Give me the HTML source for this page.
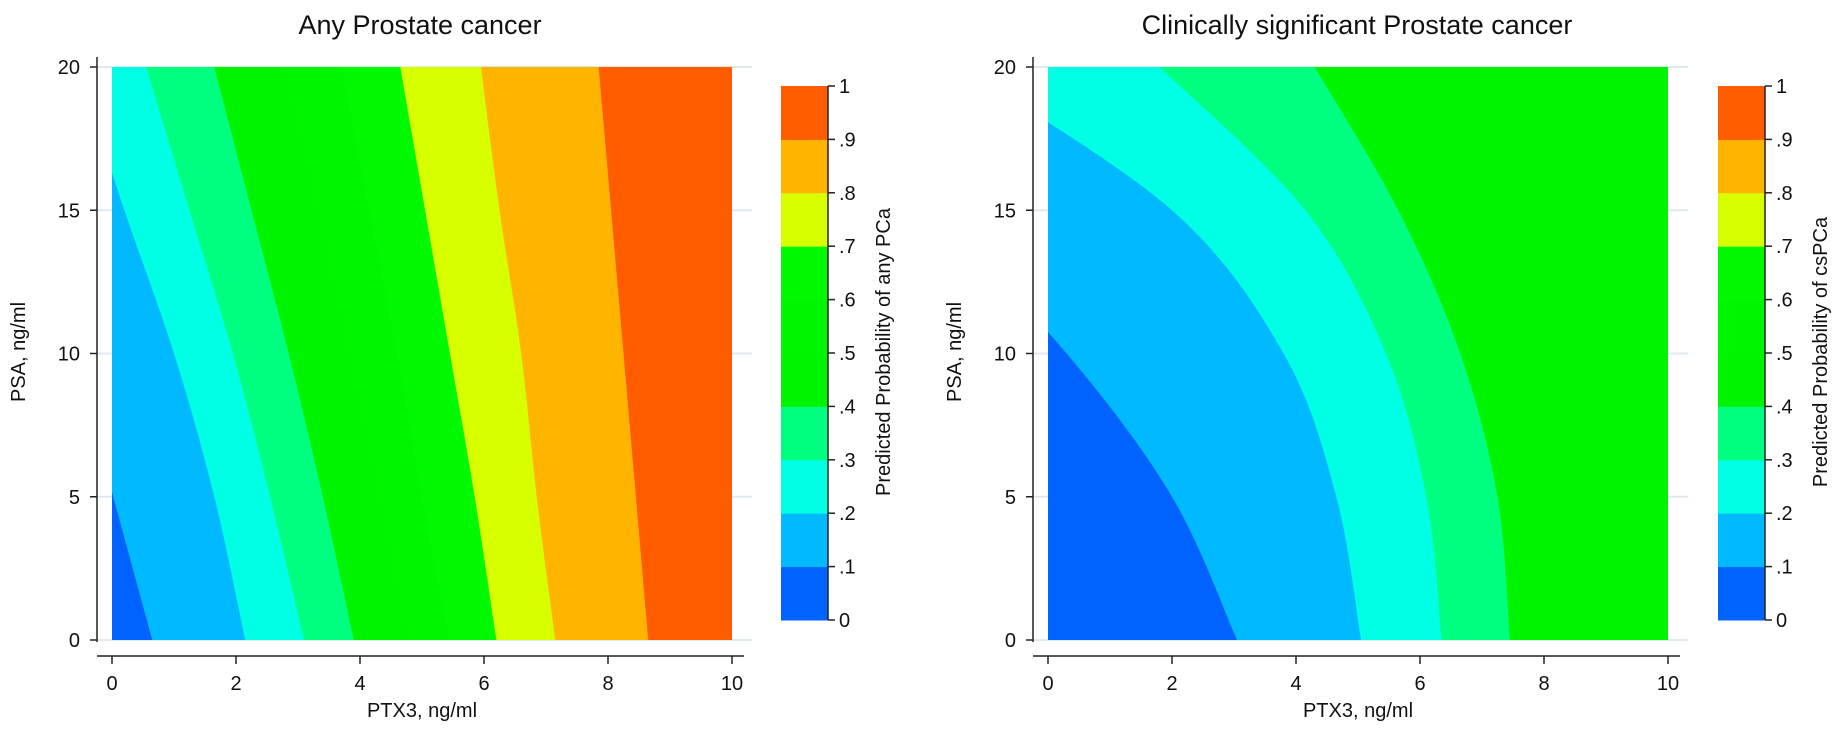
<!DOCTYPE html>
<html><head><meta charset="utf-8">
<style>
html,body{margin:0;padding:0;background:#fff;}
svg{display:block;font-family:"Liberation Sans",Arial,sans-serif;}
</style></head>
<body>
<svg id="fig" width="1841" height="729" viewBox="0 0 1841 729" xmlns="http://www.w3.org/2000/svg"></svg>
<script>
// ---- data ----
const psaGrid = [0, 5, 10, 15, 20];
const levelValues = [0.1, 0.2, 0.3, 0.4, 0.5, 0.6, 0.7, 0.8, 0.9];
const bandColors = ['#0062FF','#00B9FF','#00FFE4','#00FF80','#00F400','#00F600','#00F800','#D8FF00','#FFB400','#FF5C00'];
const colorbarTicks = ['0','.1','.2','.3','.4','.5','.6','.7','.8','.9','1'];
const xTicks = [0, 2, 4, 6, 8, 10];
const yTicks = [0, 5, 10, 15, 20];
// x (PTX3) position of each contour level at each PSA grid value
const anyPcaBoundaries = [
  [0.65, 0.02, -0.6, -1.2, -1.8],
  [2.15, 1.65, 1.0, 0.2, -0.55],
  [3.1, 2.55, 1.95, 1.25, 0.55],
  [3.9, 3.4, 2.85, 2.25, 1.65],
  [4.75, 4.3, 3.8, 3.3, 2.75],
  [5.45, 5.0, 4.6, 4.15, 3.7],
  [6.2, 5.85, 5.45, 5.05, 4.65],
  [7.15, 6.85, 6.6, 6.25, 5.95],
  [8.65, 8.45, 8.25, 8.05, 7.85]
];
const csPcaBoundaries = [
  [3.05, 2.0, 0.3, -1.9, -4.5],
  [5.05, 4.65, 3.8, 2.0, -1.4],
  [6.35, 6.1, 5.45, 4.15, 1.8],
  [7.45, 7.25, 6.65, 5.65, 4.3],
  [20, 20, 20, 20, 20],
  [20, 20, 20, 20, 20],
  [20, 20, 20, 20, 20],
  [20, 20, 20, 20, 20],
  [20, 20, 20, 20, 20]
];

const NS = 'http://www.w3.org/2000/svg';
const svg = document.getElementById('fig');
function mk(tag, attrs, parent, text) {
  const e = document.createElementNS(NS, tag);
  for (const k in attrs) e.setAttribute(k, attrs[k]);
  if (text !== undefined) e.textContent = text;
  (parent || svg).appendChild(e);
  return e;
}
function smoothPath(P) {
  let d = 'M' + P[0][0] + ',' + P[0][1];
  for (let i = 0; i < P.length - 1; i++) {
    const p0 = P[Math.max(0, i - 1)], p1 = P[i], p2 = P[i + 1], p3 = P[Math.min(P.length - 1, i + 2)];
    const c1x = p1[0] + (p2[0] - p0[0]) / 6, c1y = p1[1] + (p2[1] - p0[1]) / 6;
    const c2x = p2[0] - (p3[0] - p1[0]) / 6, c2y = p2[1] - (p3[1] - p1[1]) / 6;
    d += ' C' + c1x + ',' + c1y + ' ' + c2x + ',' + c2y + ' ' + p2[0] + ',' + p2[1];
  }
  return d;
}

function drawPanel(cfg) {
  const g = mk('g', {});
  
  
  const X0 = cfg.x0, X1 = cfg.x0 + 620, Y0 = 67, Y1 = 640;
  const sx = v => X0 + (v / 10) * (X1 - X0);
  const sy = v => Y1 - (v / 20) * (Y1 - Y0);
  yTicks.forEach(t => {
    const l = mk('line', {x1: cfg.x0 - 15, x2: X1 + 20, y1: sy(t), y2: sy(t), stroke: '#dfeaf0', 'stroke-width': 2}, g);
    
    
  });
  const clipId = 'clip-' + cfg.name;
  const defs = mk('defs', {}, g);
  const cp = mk('clipPath', {id: clipId}, defs);
  mk('rect', {x: X0, y: Y0, width: X1 - X0, height: Y1 - Y0}, cp);
  const plot = mk('g', {'clip-path': 'url(#' + clipId + ')'}, g);
  
  
  const bg = mk('rect', {x: X0, y: Y0, width: X1 - X0, height: Y1 - Y0, fill: bandColors[0]}, plot);
  
  
  cfg.bounds.forEach((b, i) => {
    const P = psaGrid.map((p, j) => [sx(b[j]), sy(p)]);
    let d = smoothPath(P);
    d += ' L' + P[P.length - 1][0] + ',' + (Y0 - 30) + ' L' + (X1 + 50) + ',' + (Y0 - 30) + ' L' + (X1 + 50) + ',' + (Y1 + 30) + ' L' + P[0][0] + ',' + (Y1 + 30) + ' Z';
    const poly = mk('path', {d: d, fill: bandColors[i + 1]}, plot);
    
    
  });
  const ax = cfg.x0 - 15;
  const ya = mk('line', {x1: ax, x2: ax, y1: Y0 - 10, y2: Y1 + 2, stroke: '#222', 'stroke-width': 1.5}, g);
  
  
  const xa = mk('line', {x1: ax, x2: X1 + 12, y1: 656, y2: 656, stroke: '#222', 'stroke-width': 1.5}, g);
  
  
  yTicks.forEach(t => {
    mk('line', {x1: ax - 7, x2: ax, y1: sy(t), y2: sy(t), stroke: '#222', 'stroke-width': 1.5}, g);
    const tl = mk('text', {x: ax - 17, y: sy(t) + 7, 'text-anchor': 'end', 'font-size': 20, fill: '#111'}, g, String(t));
    
    
  });
  xTicks.forEach(t => {
    mk('line', {x1: sx(t), x2: sx(t), y1: 656, y2: 664, stroke: '#222', 'stroke-width': 1.5}, g);
    const tl = mk('text', {x: sx(t), y: 690, 'text-anchor': 'middle', 'font-size': 20, fill: '#111'}, g, String(t));
    
    
  });
  const xl = mk('text', {x: (X0 + X1) / 2, y: 717, 'text-anchor': 'middle', 'font-size': 20, fill: '#111'}, g, 'PTX3, ng/ml');
  
  
  const yl = mk('text', {x: 0, y: 0, 'text-anchor': 'middle', 'font-size': 20, fill: '#111', transform: 'translate(' + (cfg.x0 - 87) + ',352) rotate(-90)'}, g, 'PSA, ng/ml');
  
  
  const tt = mk('text', {x: cfg.titleX, y: 34, 'text-anchor': 'middle', 'font-size': 27, fill: '#111'}, g, cfg.title);
  
  
  const cb = mk('g', {}, g);
  
  
  const cx0 = cfg.cbX, cw = 47, cy0 = 86, cy1 = 620;
  const cyS = v => cy1 - v * (cy1 - cy0);
  bandColors.forEach((c, i) => {
    const r = mk('rect', {x: cx0, y: cyS((i + 1) / 10), width: cw, height: cyS(i / 10) - cyS((i + 1) / 10) + 0.5, fill: c}, cb);
    
    
  });
  mk('line', {x1: cx0 + cw, x2: cx0 + cw, y1: cy0, y2: cy1, stroke: '#222', 'stroke-width': 1.5}, cb);
  colorbarTicks.forEach((lab, i) => {
    const yy = cyS(i / 10);
    mk('line', {x1: cx0 + cw, x2: cx0 + cw + 7, y1: yy, y2: yy, stroke: '#222', 'stroke-width': 1.5}, cb);
    const tl = mk('text', {x: cx0 + cw + 11, y: yy + 7, 'font-size': 20, fill: '#111'}, cb, lab);
    
    
  });
  const cl = mk('text', {x: 0, y: 0, 'text-anchor': 'middle', 'font-size': 20, fill: '#111', transform: 'translate(' + (cx0 + 109) + ',352) rotate(-90)'}, cb, cfg.cbLabel);
  
  
}

drawPanel({name: 'any-pca-panel', x0: 112, bounds: anyPcaBoundaries, title: 'Any Prostate cancer', titleX: 420, cbX: 781, cbLabel: 'Predicted Probability of any PCa'});
drawPanel({name: 'cs-pca-panel', x0: 1048, bounds: csPcaBoundaries, title: 'Clinically significant Prostate cancer', titleX: 1357, cbX: 1718, cbLabel: 'Predicted Probability of csPCa'});
</script>
</body></html>
